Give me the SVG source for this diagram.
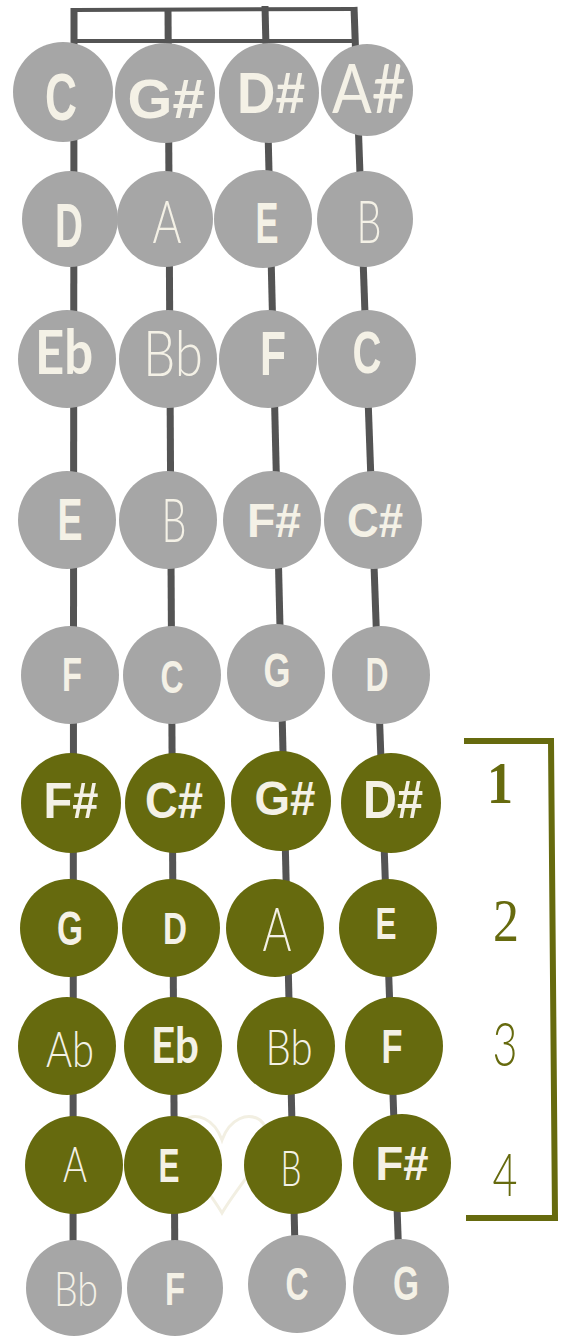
<svg xmlns="http://www.w3.org/2000/svg" width="566" height="1336" viewBox="0 0 566 1336">
<style>
.g{fill:#a6a6a6}
.o{fill:#666a0e}
.str{stroke:#545454;stroke-width:7;fill:none}
.nut{stroke:#545454;stroke-width:4;fill:none}
text{fill:#f4f1e6;text-anchor:middle}
.b{font-family:"Liberation Sans",Arial,sans-serif;font-weight:700}
.t{font-family:Lato,"Open Sans",sans-serif;font-weight:300}
.r{font-family:Lato,"Open Sans",sans-serif;font-weight:400}
.m{font-family:Lato,"Open Sans",sans-serif;font-weight:700}
.n{fill:#666a0e}
.br{stroke:#666a0e;stroke-width:6;fill:none}
</style>
<rect width="566" height="1336" fill="#ffffff"/>
<g id="connectors">
<line class="str" x1="74" y1="8" x2="73" y2="1290"/>
<line class="str" x1="168" y1="8" x2="175" y2="1290"/>
<line class="str" x1="265" y1="6" x2="296" y2="1290"/>
<line class="str" x1="354" y1="7" x2="400" y2="1290"/>
<line class="nut" x1="74" y1="10" x2="354" y2="9"/>
<line class="nut" x1="74" y1="41" x2="354" y2="41"/>
</g>
<path id="heart" d="M222,1140 C214,1118 196,1112 184,1120 C172,1130 176,1150 186,1162 C196,1176 212,1196 222,1213 C232,1196 248,1176 258,1162 C268,1150 272,1130 260,1120 C248,1112 230,1118 222,1140 Z" fill="none" stroke="#f2efe2" stroke-width="3"/>
<g id="r1c1"><circle class="g" cx="63" cy="92" r="50"/><text class="b" x="61" y="120" font-size="67" textLength="32" lengthAdjust="spacingAndGlyphs">C</text></g>
<g id="r1c2"><circle class="g" cx="165" cy="93" r="50"/><text class="b" x="166" y="118" font-size="56" textLength="77" lengthAdjust="spacingAndGlyphs">G#</text></g>
<g id="r1c3"><circle class="g" cx="269" cy="93" r="50"/><text class="b" x="271" y="113" font-size="57" textLength="68" lengthAdjust="spacingAndGlyphs">D#</text></g>
<g id="r1c4"><circle class="g" cx="367" cy="90" r="46"/><text class="r" x="369" y="113" font-size="68" textLength="74" lengthAdjust="spacingAndGlyphs">A#</text></g>
<g id="r2c1"><circle class="g" cx="70" cy="219" r="48"/><text class="b" x="69" y="247" font-size="63" textLength="28" lengthAdjust="spacingAndGlyphs">D</text></g>
<g id="r2c2"><circle class="g" cx="165" cy="219" r="48"/><text class="t" x="167" y="243" font-size="60" textLength="29" lengthAdjust="spacingAndGlyphs">A</text></g>
<g id="r2c3"><circle class="g" cx="263" cy="219" r="49"/><text class="b" x="267" y="243" font-size="57" textLength="23" lengthAdjust="spacingAndGlyphs">E</text></g>
<g id="r2c4"><circle class="g" cx="365" cy="219" r="48"/><text class="t" x="369" y="243" font-size="60" textLength="25" lengthAdjust="spacingAndGlyphs">B</text></g>
<g id="r3c1"><circle class="g" cx="67" cy="359" r="49"/><text class="m" x="64" y="374" font-size="61" textLength="58" lengthAdjust="spacingAndGlyphs">Eb</text></g>
<g id="r3c2"><circle class="g" cx="168" cy="359" r="49"/><text class="t" x="173" y="376" font-size="64" textLength="60" lengthAdjust="spacingAndGlyphs">Bb</text></g>
<g id="r3c3"><circle class="g" cx="268" cy="359" r="49"/><text class="b" x="273" y="375" font-size="63" textLength="26" lengthAdjust="spacingAndGlyphs">F</text></g>
<g id="r3c4"><circle class="g" cx="367" cy="359" r="49"/><text class="b" x="367" y="373" font-size="60" textLength="29" lengthAdjust="spacingAndGlyphs">C</text></g>
<g id="r4c1"><circle class="g" cx="67" cy="520" r="49"/><text class="b" x="70" y="540" font-size="59" textLength="25" lengthAdjust="spacingAndGlyphs">E</text></g>
<g id="r4c2"><circle class="g" cx="168" cy="520" r="49"/><text class="t" x="174" y="542" font-size="61" textLength="25" lengthAdjust="spacingAndGlyphs">B</text></g>
<g id="r4c3"><circle class="g" cx="272" cy="520" r="49"/><text class="b" x="274" y="537" font-size="49" textLength="54" lengthAdjust="spacingAndGlyphs">F#</text></g>
<g id="r4c4"><circle class="g" cx="373" cy="520" r="49"/><text class="b" x="375" y="537" font-size="49" textLength="56" lengthAdjust="spacingAndGlyphs">C#</text></g>
<g id="r5c1"><circle class="g" cx="70" cy="675" r="49"/><text class="b" x="72" y="691" font-size="49" textLength="20" lengthAdjust="spacingAndGlyphs">F</text></g>
<g id="r5c2"><circle class="g" cx="172" cy="675" r="49"/><text class="b" x="172" y="693" font-size="46" textLength="23" lengthAdjust="spacingAndGlyphs">C</text></g>
<g id="r5c3"><circle class="g" cx="276" cy="673" r="49"/><text class="b" x="277" y="687" font-size="49" textLength="27" lengthAdjust="spacingAndGlyphs">G</text></g>
<g id="r5c4"><circle class="g" cx="381" cy="675" r="49"/><text class="b" x="377" y="691" font-size="49" textLength="23" lengthAdjust="spacingAndGlyphs">D</text></g>
<g id="r6c1"><circle class="o" cx="71" cy="803" r="50"/><text class="b" x="71" y="818" font-size="50" textLength="55" lengthAdjust="spacingAndGlyphs">F#</text></g>
<g id="r6c2"><circle class="o" cx="175" cy="803" r="50"/><text class="b" x="174" y="818" font-size="50" textLength="58" lengthAdjust="spacingAndGlyphs">C#</text></g>
<g id="r6c3"><circle class="o" cx="281" cy="801" r="50"/><text class="b" x="285" y="815" font-size="49" textLength="61" lengthAdjust="spacingAndGlyphs">G#</text></g>
<g id="r6c4"><circle class="o" cx="391" cy="803" r="50"/><text class="b" x="393" y="818" font-size="53" textLength="60" lengthAdjust="spacingAndGlyphs">D#</text></g>
<g id="r7c1"><circle class="o" cx="69" cy="928" r="49"/><text class="b" x="70" y="945" font-size="49" textLength="26" lengthAdjust="spacingAndGlyphs">G</text></g>
<g id="r7c2"><circle class="o" cx="171" cy="928" r="49"/><text class="b" x="175" y="944" font-size="45" textLength="24" lengthAdjust="spacingAndGlyphs">D</text></g>
<g id="r7c3"><circle class="o" cx="275" cy="928" r="49"/><text class="t" x="277" y="951" font-size="61" textLength="29" lengthAdjust="spacingAndGlyphs">A</text></g>
<g id="r7c4"><circle class="o" cx="388" cy="928" r="49"/><text class="b" x="386" y="939" font-size="45" textLength="21" lengthAdjust="spacingAndGlyphs">E</text></g>
<g id="r8c1"><circle class="o" cx="67" cy="1046" r="49"/><text class="t" x="70" y="1067" font-size="49" textLength="48" lengthAdjust="spacingAndGlyphs">Ab</text></g>
<g id="r8c2"><circle class="o" cx="173" cy="1046" r="49"/><text class="m" x="175" y="1063" font-size="50" textLength="48" lengthAdjust="spacingAndGlyphs">Eb</text></g>
<g id="r8c3"><circle class="o" cx="286" cy="1046" r="49"/><text class="t" x="289" y="1065" font-size="50" textLength="47" lengthAdjust="spacingAndGlyphs">Bb</text></g>
<g id="r8c4"><circle class="o" cx="394" cy="1046" r="49"/><text class="b" x="392" y="1063" font-size="49" textLength="21" lengthAdjust="spacingAndGlyphs">F</text></g>
<g id="r9c1"><circle class="o" cx="74" cy="1165" r="49"/><text class="t" x="75" y="1182" font-size="50" textLength="24" lengthAdjust="spacingAndGlyphs">A</text></g>
<g id="r9c2"><circle class="o" cx="173" cy="1165" r="49"/><text class="b" x="169" y="1182" font-size="49" textLength="21" lengthAdjust="spacingAndGlyphs">E</text></g>
<g id="r9c3"><circle class="o" cx="293" cy="1165" r="49"/><text class="t" x="291" y="1186" font-size="50" textLength="21" lengthAdjust="spacingAndGlyphs">B</text></g>
<g id="r9c4"><circle class="o" cx="402" cy="1163" r="49"/><text class="b" x="402" y="1180" font-size="49" textLength="53" lengthAdjust="spacingAndGlyphs">F#</text></g>
<g id="r10c1"><circle class="g" cx="74" cy="1288" r="48"/><text class="t" x="76" y="1306" font-size="47" textLength="44" lengthAdjust="spacingAndGlyphs">Bb</text></g>
<g id="r10c2"><circle class="g" cx="175" cy="1288" r="48"/><text class="b" x="175" y="1305" font-size="47" textLength="20" lengthAdjust="spacingAndGlyphs">F</text></g>
<g id="r10c3"><circle class="g" cx="297" cy="1284" r="49"/><text class="b" x="297" y="1300" font-size="47" textLength="23" lengthAdjust="spacingAndGlyphs">C</text></g>
<g id="r10c4"><circle class="g" cx="401" cy="1287" r="48"/><text class="b" x="406" y="1300" font-size="49" textLength="26" lengthAdjust="spacingAndGlyphs">G</text></g>
<g id="bracket">
<path class="br" d="M464,741 L551,741 L555,1218 L466,1218"/>
<text class="n" x="500" y="803" font-family="Liberation Serif,serif" font-weight="700" font-size="60" textLength="26" lengthAdjust="spacingAndGlyphs">1</text>
<text class="n" x="506" y="941" font-family="Liberation Serif,serif" font-size="62" textLength="26" lengthAdjust="spacingAndGlyphs">2</text>
<text class="n t" x="505" y="1066" font-size="61" textLength="25" lengthAdjust="spacingAndGlyphs">3</text>
<text class="n t" x="505" y="1196" font-size="60" textLength="25" lengthAdjust="spacingAndGlyphs">4</text>
</g>
</svg>
